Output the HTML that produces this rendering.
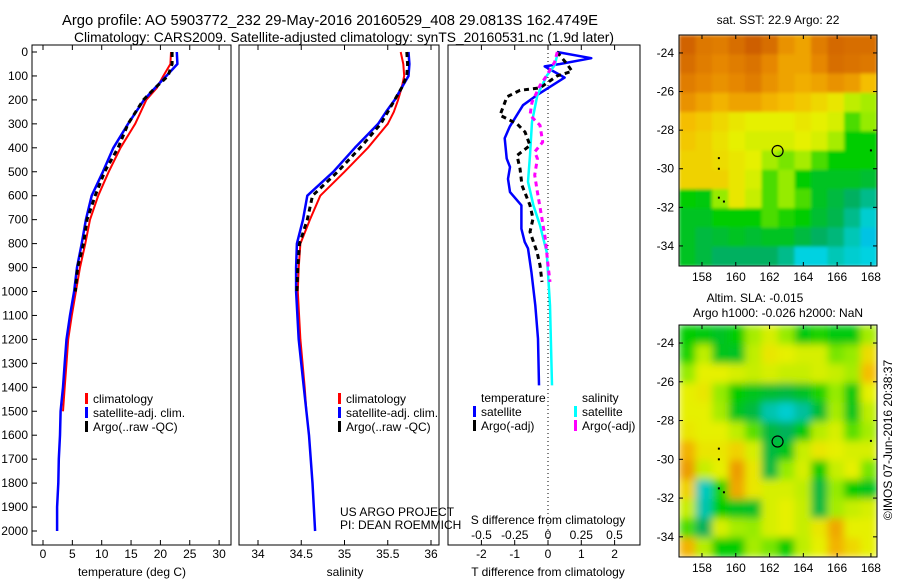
<!DOCTYPE html>
<html><head><meta charset="utf-8"><style>
html,body{margin:0;padding:0;background:#fff;}
svg{display:block;font-family:"Liberation Sans",Arial,sans-serif;}
text{fill:#000;}
</style></head><body>
<svg id="fig" width="900" height="580" viewBox="0 0 900 580" xmlns="http://www.w3.org/2000/svg">
<defs>
<filter id="blurB" x="0" y="0" width="1" height="1"><feGaussianBlur stdDeviation="4" edgeMode="duplicate"/></filter>
<filter id="blurT" x="0" y="0" width="1" height="1"><feGaussianBlur stdDeviation="1.5" edgeMode="duplicate"/></filter>
<clipPath id="clipT"><rect x="679" y="35" width="198" height="231"/></clipPath>
<clipPath id="clipB"><rect x="679" y="325" width="198" height="232"/></clipPath>
</defs>
<text x="62" y="25" font-size="14.6" textLength="536" lengthAdjust="spacingAndGlyphs">Argo profile: AO 5903772_232 29-May-2016 20160529_408 29.0813S 162.4749E</text>
<text x="74" y="42" font-size="13.8" textLength="540" lengthAdjust="spacingAndGlyphs">Climatology: CARS2009. Satellite-adjusted climatology: synTS_20160531.nc (1.9d later)</text>
<g id="g"></g>
</svg>
<script>
// ---------- data ----------
const depthT = [0,50,100,150,200,300,400,500,600,700,800,900,1000,1100,1200,1300,1400,1500,1600,1700,1800,1900,2000];
const tempClim = [21.8,21.7,20.5,19.4,17.6,15.7,13.2,11.2,9.4,8.0,7.2,6.3,5.6,4.9,4.3,4.0,3.7,3.4];
const tempSat = [22.8,22.9,21.0,19.1,17.2,14.5,12.0,10.2,8.3,7.3,6.6,5.8,5.3,4.6,4.0,3.7,3.4,3.0,2.9,2.7,2.6,2.4,2.4];
const tempArgo = [22.0,22.0,21.3,19.1,17.1,14.5,12.8,10.5,8.9,7.5,6.9,5.9,5.5];
const depthS = [0,50,100,150,200,250,300,400,500,600,700,800,900,1000,1200,1400,1500,1600,1800,2000];
const salClim = [35.65,35.68,35.69,35.66,35.62,35.57,35.5,35.27,35.0,34.72,34.6,34.49,34.47,34.46,34.49,34.54,34.56];
const salSat = [35.74,35.75,35.74,35.66,35.58,35.48,35.39,35.12,34.87,34.57,34.52,34.45,34.44,34.44,34.47,34.53,34.56,34.59,34.63,34.66];
const salArgo = [35.72,35.73,35.72,35.66,35.58,35.5,35.42,35.18,34.92,34.63,34.57,34.48,34.46,34.45];
const dTsatDepth = [0,26,50,60,107,180,222,312,360,445,480,530,585,640,738,793,820,918,1058,1197,1392];
const dTsat = [0.27,1.3,0.36,-0.1,0.5,-0.33,-0.75,-1.15,-1.3,-1.24,-1.14,-1.2,-1.14,-0.8,-0.8,-0.7,-0.6,-0.5,-0.38,-0.3,-0.27];
const dSsatDepth = [0,56,98,180,292,431,542,640,724,835,1058,1392];
const dSsat = [0.075,0.05,-0.008,-0.08,-0.12,-0.135,-0.15,-0.11,-0.06,-0.01,0.015,0.03];
const dTargoDepth = [0,50,80,100,150,160,187,264,300,334,390,432,487,557,640,696,751,835,890,960];
const dTargo = [0.27,0.57,0.72,0.27,-0.24,-0.84,-1.23,-1.44,-0.93,-0.69,-0.54,-0.93,-0.84,-0.78,-0.54,-0.45,-0.54,-0.33,-0.24,-0.18];
const dSargoDepth = [0,42,98,140,210,264,306,376,417,445,514,585,682,779,890,960];
const dSargo = [0.07,0.05,-0.01,-0.06,-0.12,-0.135,-0.06,-0.04,-0.1,-0.08,-0.1,-0.08,-0.05,-0.02,0,0.015];
const depthTicks = [0,100,200,300,400,500,600,700,800,900,1000,1100,1200,1300,1400,1500,1600,1700,1800,1900,2000];
const tempTicks = [0,5,10,15,20,25,30];
const salTicks = [34,34.5,35,35.5,36];
const salTickLabels = ["34","34.5","35","35.5","36"];
const dTTicks = [-2,-1,0,1,2];
const dSTicks = [-0.5,-0.25,0,0.25,0.5];
const dSTickLabels = ["-0.5","-0.25","0","0.25","0.5"];
const lonTicks = [158,160,162,164,166,168];
const latTicks = [-24,-26,-28,-30,-32,-34];
const sstGrid = [
[0.97,0.93,0.92,0.95,0.98,0.95,0.88,0.85,0.92,0.96,0.95,0.95],
[0.95,0.92,0.90,0.92,0.94,0.90,0.85,0.85,0.90,0.95,0.94,0.93],
[0.92,0.90,0.88,0.90,0.92,0.88,0.85,0.83,0.85,0.88,0.86,0.80],
[0.88,0.85,0.82,0.85,0.85,0.82,0.80,0.78,0.75,0.72,0.65,0.62],
[0.80,0.78,0.75,0.72,0.70,0.70,0.70,0.72,0.70,0.68,0.55,0.60],
[0.78,0.76,0.73,0.70,0.68,0.68,0.68,0.70,0.68,0.62,0.50,0.50],
[0.76,0.76,0.74,0.72,0.70,0.62,0.58,0.62,0.55,0.50,0.50,0.50],
[0.76,0.76,0.76,0.72,0.68,0.55,0.60,0.50,0.45,0.45,0.45,0.42],
[0.50,0.48,0.60,0.72,0.66,0.55,0.60,0.55,0.45,0.40,0.35,0.30],
[0.45,0.45,0.50,0.50,0.50,0.55,0.52,0.50,0.42,0.38,0.30,0.22],
[0.45,0.40,0.42,0.45,0.42,0.45,0.45,0.40,0.35,0.32,0.25,0.18],
[0.45,0.40,0.35,0.35,0.35,0.35,0.30,0.20,0.20,0.25,0.22,0.20]];
const slaGrid = [
[0.50,0.48,0.45,0.50,0.62,0.68,0.60,0.48,0.52,0.48,0.48,0.62],
[0.52,0.65,0.46,0.45,0.65,0.72,0.70,0.68,0.68,0.58,0.60,0.74],
[0.60,0.70,0.70,0.68,0.66,0.68,0.66,0.66,0.68,0.66,0.62,0.80],
[0.70,0.72,0.60,0.50,0.46,0.42,0.40,0.44,0.52,0.60,0.48,0.70],
[0.70,0.70,0.62,0.46,0.40,0.26,0.22,0.28,0.42,0.62,0.46,0.65],
[0.72,0.70,0.70,0.65,0.56,0.40,0.36,0.48,0.64,0.68,0.56,0.62],
[0.82,0.72,0.72,0.76,0.68,0.40,0.46,0.66,0.72,0.70,0.68,0.68],
[0.86,0.66,0.70,0.86,0.72,0.40,0.60,0.68,0.50,0.66,0.70,0.58],
[0.76,0.24,0.52,0.84,0.72,0.68,0.68,0.65,0.40,0.60,0.50,0.46],
[0.66,0.26,0.50,0.46,0.44,0.68,0.70,0.66,0.40,0.62,0.66,0.68],
[0.55,0.36,0.68,0.62,0.60,0.68,0.70,0.66,0.72,0.84,0.70,0.70],
[0.82,0.64,0.50,0.50,0.62,0.58,0.50,0.65,0.70,0.82,0.75,0.70]];
const argoLon = 162.4749, argoLat = -29.0813;

// ---------- helpers ----------
const NS = "http://www.w3.org/2000/svg";
const G = document.getElementById("g");
function el(tag, attrs, parent){const e=document.createElementNS(NS,tag);for(const k in attrs)e.setAttribute(k,attrs[k]);(parent||G).appendChild(e);return e;}
function txt(s,x,y,anchor,size,name,parent){const t=el("text",{x:x,y:y,"text-anchor":anchor||"start","font-size":size||12},parent);t.textContent=s;


return t;}
const yD = d => 52 + d*0.2395;
const xT = v => 43 + v*5.87;
const xS = v => 258 + (v-34)*86.5;
const xdT = v => 548 + v*33.3;
const xdS = v => 548 + v*133;

function frame(x0,x1,name){
  const r=el("rect",{x:x0,y:45,width:x1-x0,height:500,fill:"none",stroke:"#000","stroke-width":1});
  
  
}
function line(xs,ds,xf,color,w,dash,name){
  const n=Math.min(xs.length,ds.length);
  let p="";for(let i=0;i<n;i++)p+=(i?"L":"M")+xf(xs[i]).toFixed(1)+","+yD(ds[i]).toFixed(1);
  const a={d:p,fill:"none",stroke:color,"stroke-width":w,"stroke-linejoin":"round"};
  if(dash)a["stroke-dasharray"]=dash;
  const e=el("path",a);
  
  
}
function xticks(vals,labels,xf,ylab,name){
  vals.forEach((v,i)=>{const x=xf(v);
    el("line",{x1:x,x2:x,y1:545,y2:540,stroke:"#000"});
    el("line",{x1:x,x2:x,y1:45,y2:50,stroke:"#000"});
    txt(labels[i],x,ylab,"middle",12,name);});
}
function legendEntry(x,y,color,label,name){
  const r=el("rect",{x:x,y:y-10,width:3,height:11,fill:color});
  
  
  txt(label,x+8,y,"start",12,name);
}

// ---------- panel 1: temperature ----------
frame(32,231,"temperature-plot-frame");
depthTicks.forEach(d=>{const y=yD(d);el("line",{x1:32,x2:37,y1:y,y2:y,stroke:"#000"});txt(String(d),28,y+4,"end",12,"depth-tick-label");});
xticks(tempTicks,tempTicks.map(String),xT,558,"temperature-tick-label");
txt("temperature (deg C)",132,576,"middle",12,"temperature-axis-title");
line(tempClim,depthT,xT,"#ff0000",2,null,"temperature-climatology-line");
line(tempSat,depthT,xT,"#0000ff",2.5,null,"temperature-satellite-line");
line(tempArgo,depthT,xT,"#000",3,"5,4","temperature-argo-line");
legendEntry(85,403,"#ff0000","climatology","legend-climatology");
legendEntry(85,417,"#0000ff","satellite-adj. clim.","legend-satellite-adj");
legendEntry(85,431,"#000","Argo(..raw -QC)","legend-argo");

// ---------- panel 2: salinity ----------
frame(239,439,"salinity-plot-frame");
xticks(salTicks,salTickLabels,xS,558,"salinity-tick-label");
txt("salinity",345,576,"middle",12,"salinity-axis-title");
line(salClim,depthS,xS,"#ff0000",2,null,"salinity-climatology-line");
line(salSat,depthS,xS,"#0000ff",2.5,null,"salinity-satellite-line");
line(salArgo,depthS,xS,"#000",3,"5,4","salinity-argo-line");
legendEntry(338,403,"#ff0000","climatology","legend-climatology-2");
legendEntry(338,417,"#0000ff","satellite-adj. clim.","legend-satellite-adj-2");
legendEntry(338,431,"#000","Argo(..raw -QC)","legend-argo-2");
txt("US ARGO PROJECT",340,516,"start",12,"project-credit");
txt("PI: DEAN ROEMMICH",340,529,"start",12,"pi-credit");

// ---------- panel 3: differences ----------
frame(448,640,"difference-plot-frame");
el("line",{x1:548,x2:548,y1:45,y2:545,stroke:"#000","stroke-dasharray":"1,3"});
xticks(dTTicks,dTTicks.map(String),xdT,558,"t-difference-tick-label");
txt("T difference from climatology",548,576,"middle",12,"t-difference-axis-title");
txt("S difference from climatology",548,524,"middle",12,"s-difference-axis-title");
dSTicks.forEach((v,i)=>txt(dSTickLabels[i],xdS(v),539,"middle",12,"s-difference-tick-label"));
line(dTsat,dTsatDepth,xdT,"#0000ff",2.5,null,"t-diff-satellite-line");
line(dSsat,dSsatDepth,xdS,"#00ffff",2.5,null,"s-diff-satellite-line");
line(dTargo,dTargoDepth,xdT,"#000",3,"5,4","t-diff-argo-line");
line(dSargo,dSargoDepth,xdS,"#ff00ff",3,"5,4","s-diff-argo-line");
txt("temperature",481,402,"start",12,"legend-temperature-heading");
txt("salinity",582,402,"start",12,"legend-salinity-heading");
legendEntry(473,416,"#0000ff","satellite","legend-t-satellite");
legendEntry(473,430,"#000","Argo(-adj)","legend-t-argo");
legendEntry(574,416,"#00ffff","satellite","legend-s-satellite");
legendEntry(574,430,"#ff00ff","Argo(-adj)","legend-s-argo");

// ---------- maps ----------
const stops=[[0,[0,64,255]],[0.2,[0,210,225]],[0.35,[0,176,96]],[0.5,[0,205,0]],[0.6,[150,235,0]],[0.7,[230,240,0]],[0.8,[245,190,0]],[0.9,[230,135,0]],[1,[200,85,0]]];
function cmap(v){for(let i=1;i<stops.length;i++){if(v<=stops[i][0]){const a=stops[i-1],b=stops[i],t=(v-a[0])/(b[0]-a[0]);
 return "rgb("+a[1].map((c,k)=>Math.round(c+(b[1][k]-c)*t)).join(",")+")";}}return "rgb(200,85,0)";}
function drawMap(grid,x0,y0,w,h,filt,clip,name){
  const lonL=156.64,lonR=168.36,latT=-23.07,latB=-35.04;
  const mx=lon=>x0+(lon-lonL)/(lonR-lonL)*w;
  const my=lat=>y0+(lat-latT)/(latB-latT)*h;
  const gc=el("g",{"clip-path":"url(#"+clip+")"});
  
  
  const gf=el("g",{filter:"url(#"+filt+")"},gc);
  const nr=grid.length,nc=grid[0].length;
  grid.forEach((row,r)=>row.forEach((v,c)=>{
    const la0=latT+(latB-latT)*r/nr, la1=latT+(latB-latT)*(r+1)/nr;
    const lo0=lonL+(lonR-lonL)*c/nc, lo1=lonL+(lonR-lonL)*(c+1)/nc;
    const cell=el("rect",{x:mx(lo0),y:my(la0),width:mx(lo1)-mx(lo0)+0.5,height:my(la1)-my(la0)+0.5,fill:cmap(v)},gf);
    
    
  }));
  const fr=el("rect",{x:x0,y:y0,width:w,height:h,fill:"none",stroke:"#000"});
  
  
  lonTicks.forEach(l=>{const x=mx(l);el("line",{x1:x,x2:x,y1:y0+h,y2:y0+h-4,stroke:"#000"});el("line",{x1:x,x2:x,y1:y0,y2:y0+4,stroke:"#000"});
    txt(String(l),x,y0+h+15,"middle",12,name+"-lon-tick-label");});
  latTicks.forEach(l=>{const y=my(l);el("line",{x1:x0,x2:x0+4,y1:y,y2:y,stroke:"#000"});el("line",{x1:x0+w,x2:x0+w-4,y1:y,y2:y,stroke:"#000"});
    txt(String(l),x0-5,y+4,"end",12,name+"-lat-tick-label");});
  const c=el("circle",{cx:mx(argoLon),cy:my(argoLat),r:5.5,fill:"none",stroke:"#000","stroke-width":1.2});
  
  
  [[159.0,-29.45],[159.0,-30.0],[159.0,-31.5],[159.3,-31.7],[168.0,-29.05]].forEach(p=>el("rect",{x:mx(p[0])-1,y:my(p[1])-1,width:2,height:2,fill:"#000"}));
}
drawMap(sstGrid,679,35,198,231,"blurT","clipT","sst-map");
txt("sat. SST: 22.9 Argo: 22",778,24,"middle",12,"sst-map-title");
drawMap(slaGrid,679,325,198,232,"blurB","clipB","sla-map");
txt("Altim. SLA: -0.015",755,302,"middle",12,"sla-map-title");
txt("Argo h1000: -0.026 h2000: NaN",778,317,"middle",12,"sla-map-subtitle");
const cp=txt("©IMOS 07-Jun-2016 20:38:37",0,0,"middle",12,"copyright-timestamp");
cp.setAttribute("transform","translate(892,440) rotate(-90)");
</script>
</body></html>
